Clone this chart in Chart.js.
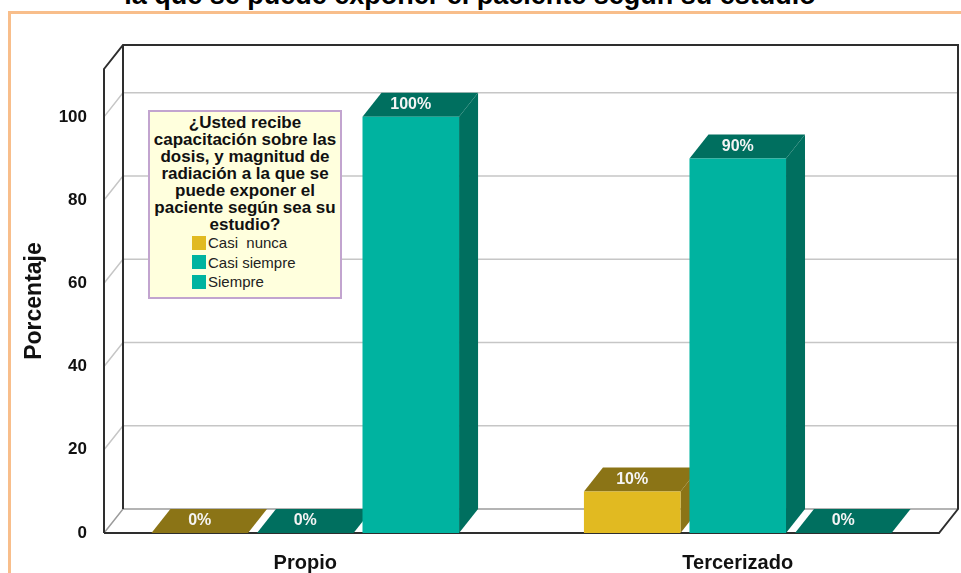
<!DOCTYPE html>
<html lang="es">
<head>
  <meta charset="UTF-8">
  <title>Capacitación sobre dosis de radiación</title>
  <script src="https://cdn.jsdelivr.net/npm/chart.js"></script>
  <style>
    body { margin: 0; background: #fff; font-family: "Liberation Sans", Arial, sans-serif; }
    #hoja { position: relative; width: 961px; height: 573px; overflow: hidden; }
    #marco { position: absolute; left: 8px; top: 11px; width: 1000px; height: 620px; border: 3px solid #F8BE8B; }
    #titulo { position: absolute; left: 0; top: -18px; width: 940px; text-align: center; font-weight: bold;
              font-size: 27px; line-height: 27px; white-space: nowrap; color: #000; }
    #grafico { position: absolute; left: 0; top: 0; }
    #leyenda { position: absolute; left: 148px; top: 110px; width: 194px; height: 189px; box-sizing: border-box;
               border: 2px solid #C2A4CF; background: #FFFFDD; padding-top: 2px; }
    #leyenda .tit { font-weight: bold; font-size: 17px; line-height: 17px; text-align: center; color: #111; }
    #leyenda .item { height: 19.5px; display: flex; align-items: center; padding-left: 42px; font-size: 15px; color: #222; white-space: pre; }
    #leyenda .cuadro { width: 14px; height: 14px; margin-right: 2px; }
  </style>
</head>
<body>
<div id="hoja">
  <div id="marco"></div>
  <div id="titulo">la que se puede exponer el paciente según su estudio</div>
  <canvas id="grafico" width="961" height="573"></canvas>
  <div id="leyenda"><div class="tit"></div><div class="items"></div></div>
</div>
<script>
  // datos: porcentaje por tipo de servicio
  const categorias = ['Propio', 'Tercerizado'];
  const casiNunca = [0, 10];
  const casiSiempre = [0, 90];
  const siempre = [100, 0];
  const nombresSerie = ['Casi  nunca', 'Casi siempre', 'Siempre'];
  const ticksY = [0, 20, 40, 60, 80, 100];
  const tituloLeyenda = ['¿Usted recibe', 'capacitación sobre las', 'dosis, y magnitud de',
                         'radiación a la que se', 'puede exponer el', 'paciente según sea su', 'estudio?'];

  const colorFrente = ['#E1BA21', '#00B3A0', '#00B3A0'];
  const colorFondo = ['#8B7416', '#006F5F', '#006F5F'];

  const DX = 19, DY = -24;   // profundidad de la caja 3D
  const MARGEN = 15;         // la cara frontal de la caja va 15px dentro del area

  function poligono(ctx, pts) {
    ctx.beginPath();
    ctx.moveTo(pts[0][0], pts[0][1]);
    for (let k = 1; k < pts.length; k++) ctx.lineTo(pts[k][0], pts[k][1]);
    ctx.closePath();
    ctx.fill();
  }

  const caja3d = {
    id: 'caja3d',
    beforeDatasetsDraw(chart) {
      const { ctx, chartArea: a } = chart;
      const y = chart.scales.y;
      const x0 = a.left + MARGEN, x1 = a.right - MARGEN;
      const yTop = a.top, yBase = y.getPixelForValue(0);
      ctx.save();

      // cuadricula en la pared izquierda y el fondo
      ctx.strokeStyle = '#C6C6C6';
      ctx.lineWidth = 1.5;
      ticksY.forEach(v => {
        if (v === 0) return;
        const py = y.getPixelForValue(v);
        ctx.beginPath();
        ctx.moveTo(x0, py);
        ctx.lineTo(x0 + DX, py + DY);
        ctx.lineTo(x1 + DX, py + DY);
        ctx.stroke();
      });

      // borde trasero del piso
      ctx.strokeStyle = '#9C9C9C';
      ctx.beginPath();
      ctx.moveTo(x0, yBase);
      ctx.lineTo(x0 + DX, yBase + DY);
      ctx.lineTo(x1 + DX, yBase + DY);
      ctx.stroke();

      // contorno de la caja
      ctx.strokeStyle = '#2E2E2E';
      ctx.lineWidth = 2;
      ctx.beginPath();
      ctx.moveTo(x0, yBase);
      ctx.lineTo(x0, yTop);
      ctx.lineTo(x0 + DX, yTop + DY);
      ctx.lineTo(x1 + DX, yTop + DY);
      ctx.lineTo(x1 + DX, yBase + DY);
      ctx.lineTo(x1, yBase);
      ctx.lineTo(x0, yBase);
      ctx.moveTo(x0 + DX, yTop + DY);
      ctx.lineTo(x0 + DX, yBase + DY);
      ctx.stroke();

      // tapas y lados de las barras (las de 0% quedan planas en el piso)
      chart.data.datasets.forEach((ds, i) => {
        chart.getDatasetMeta(i).data.forEach((el, j) => {
          const { x, y: top, base, width } = el.getProps(['x', 'y', 'base', 'width'], true);
          const l = x - width / 2, r = x + width / 2;
          ctx.fillStyle = colorFondo[i];
          if (ds.data[j] > 0) {
            poligono(ctx, [[l, top], [r, top], [r + DX, top + DY], [l + DX, top + DY]]);
            poligono(ctx, [[r, top], [r + DX, top + DY], [r + DX, base + DY], [r, base]]);
          } else {
            poligono(ctx, [[l, base], [r, base], [r + DX, base + DY], [l + DX, base + DY]]);
          }
        });
      });
      ctx.restore();
    },
    afterDatasetsDraw(chart) {
      const { ctx } = chart;
      ctx.save();
      ctx.font = 'bold 16px "Liberation Sans", Arial, sans-serif';
      ctx.fillStyle = '#F4F4F4';
      ctx.textAlign = 'center';
      ctx.textBaseline = 'middle';
      chart.data.datasets.forEach((ds, i) => {
        chart.getDatasetMeta(i).data.forEach((el, j) => {
          const { x, y: top } = el.getProps(['x', 'y'], true);
          ctx.fillText(ds.data[j] + '%', x, top - 12);
        });
      });
      ctx.restore();
    }
  };

  const series = [casiNunca, casiSiempre, siempre];

  new Chart(document.getElementById('grafico'), {
    type: 'bar',
    data: {
      labels: categorias,
      datasets: series.map((d, i) => ({
        label: nombresSerie[i],
        data: d,
        backgroundColor: colorFrente[i],
        borderWidth: 0,
        categoryPercentage: 0.732,
        barPercentage: 0.915
      }))
    },
    options: {
      responsive: false,
      animation: false,
      devicePixelRatio: 1,
      layout: { padding: { left: 0, right: 7, top: 69, bottom: 0 } },
      plugins: { legend: { display: false }, tooltip: { enabled: false } },
      scales: {
        x: {
          grid: { display: false },
          border: { display: false },
          ticks: { color: '#111', padding: 10, font: { family: '"Liberation Sans", Arial', size: 20, weight: 'bold' } },
          afterFit: s => { s.height = 40; }
        },
        y: {
          min: 0,
          max: 111.5,
          grid: { display: false },
          border: { display: false },
          ticks: {
            stepSize: 20,
            includeBounds: false,
            padding: -6,
            color: '#111',
            font: { family: '"Liberation Sans", Arial', size: 17, weight: 'bold' }
          },
          title: {
            display: true,
            text: 'Porcentaje',
            color: '#111',
            padding: { top: 21, bottom: 0 },
            font: { family: '"Liberation Sans", Arial', size: 23, weight: 'bold' }
          },
          afterFit: s => { s.width = 89; }
        }
      }
    },
    plugins: [caja3d]
  });

  // leyenda en html, armada con los mismos nombres y colores
  document.querySelector('#leyenda .tit').innerHTML = tituloLeyenda.join('<br>');
  document.querySelector('#leyenda .items').innerHTML = nombresSerie.map((n, i) =>
    `<div class="item"><span class="cuadro" style="background:${colorFrente[i]}"></span>${n}</div>`).join('');
</script>
</body>
</html>
